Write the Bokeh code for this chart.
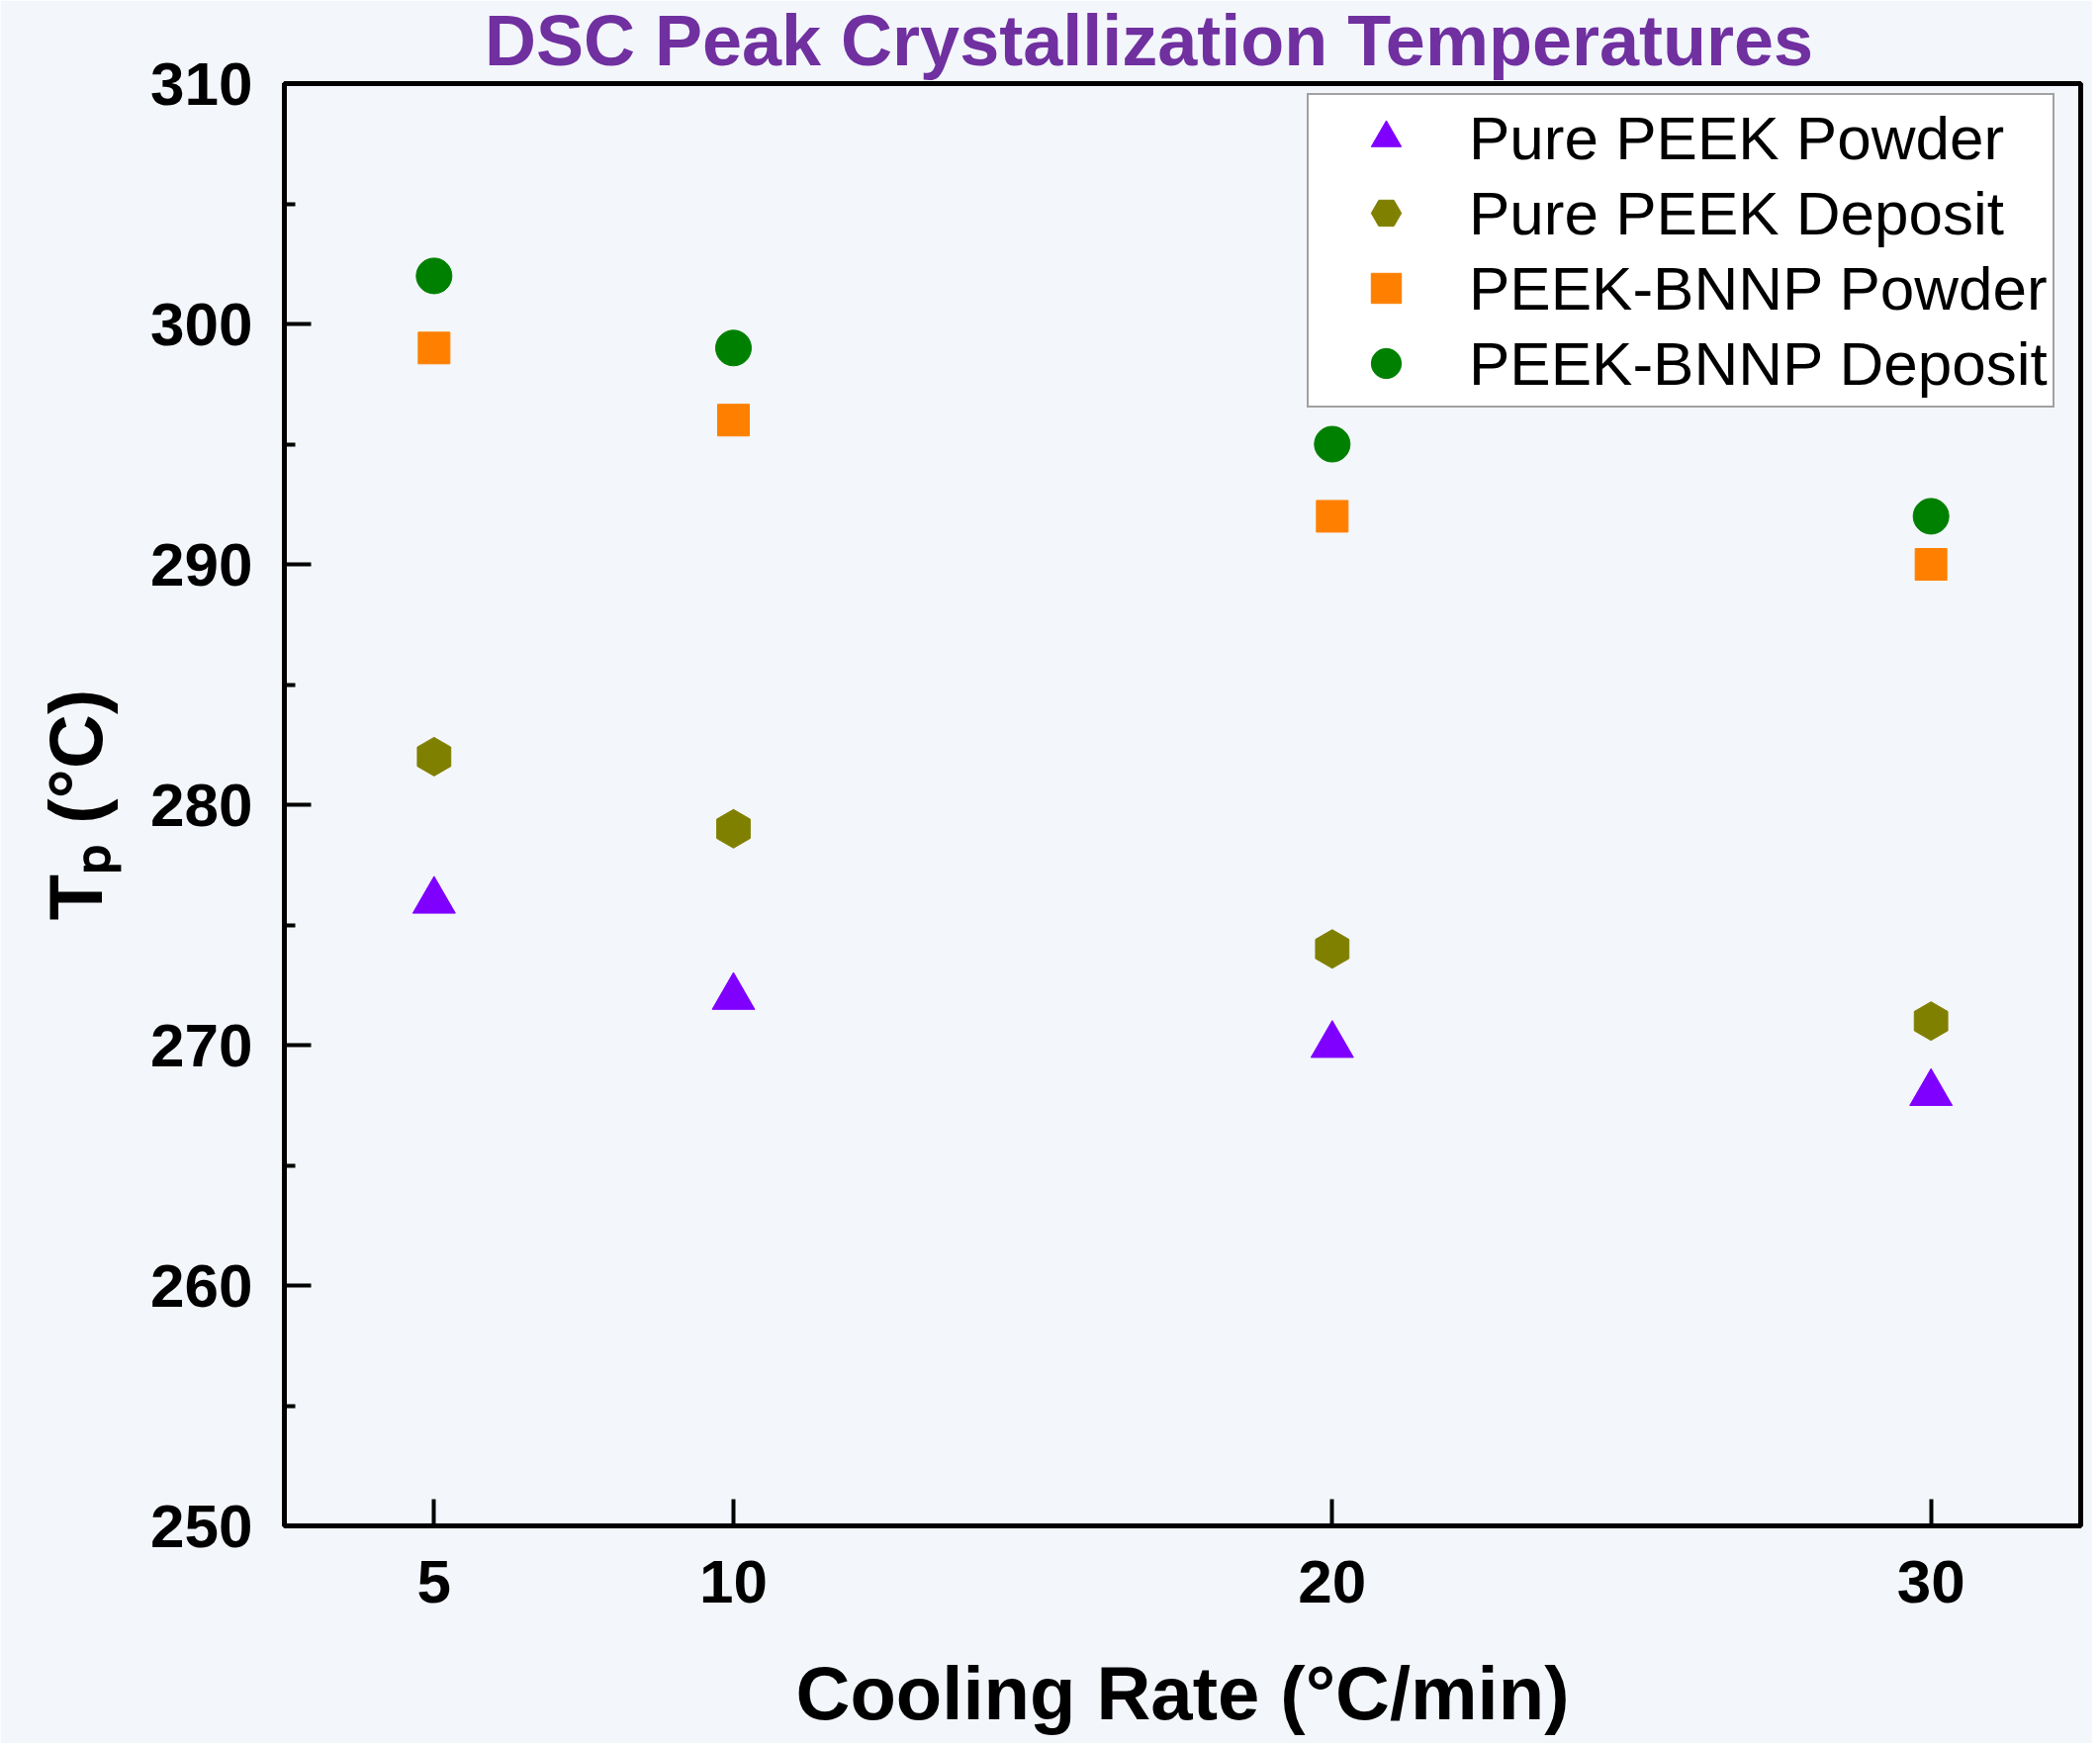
import math
from bokeh.plotting import figure
from bokeh.models import (Range1d, FixedTicker, Label, Legend, LegendItem)
from bokeh.embed import file_html
from bokeh.resources import INLINE

# ---- data ----
cooling_rate = [5, 10, 20, 30]
pure_peek_powder = [276, 272, 270, 268]
pure_peek_deposit = [282, 279, 274, 271]
bnnp_powder = [299, 296, 292, 290]
bnnp_deposit = [302, 299, 295, 292]

series_names = ["Pure PEEK Powder", "Pure PEEK Deposit", "PEEK-BNNP Powder", "PEEK-BNNP Deposit"]
x_ticks = [5, 10, 20, 30]
y_major = [250, 260, 270, 280, 290, 300, 310]
y_minor = [255, 265, 275, 285, 295, 305]

title_text = "DSC Peak Crystallization Temperatures"
x_label = "Cooling Rate (°C/min)"
y_label = "Tₚ (°C)"

BG = "#F3F6FB"
FONT = "Liberation Sans"

W, H = 2115, 1762
p = figure(width=W, height=H, output_backend="svg", toolbar_location=None,
           x_range=Range1d(2.5, 32.5), y_range=Range1d(250, 310))
p.min_border_left = 287
p.min_border_right = W - 2103
p.min_border_top = 84
p.min_border_bottom = H - 1542
p.background_fill_color = BG
p.border_fill_color = BG
p.outline_line_color = "black"
p.outline_line_width = 5
p.grid.visible = False

# axes
for ax in (p.xaxis[0], p.yaxis[0]):
    ax.axis_line_width = 5
    ax.axis_line_color = "black"
    ax.major_tick_in = 27
    ax.major_tick_out = 0
    ax.major_tick_line_width = 4
    ax.minor_tick_in = 11
    ax.minor_tick_out = 0
    ax.minor_tick_line_width = 4
    ax.major_label_text_font = FONT
    ax.major_label_text_font_style = "bold"
    ax.major_label_text_font_size = "62px"
    ax.major_label_text_color = "black"
    ax.axis_label_text_font = FONT
    ax.axis_label_text_font_style = "bold"
    ax.axis_label_text_font_size = "76px"
    ax.axis_label_text_color = "black"

p.xaxis[0].ticker = FixedTicker(ticks=x_ticks)
p.xaxis[0].minor_tick_line_color = None
p.xaxis[0].major_label_standoff = 35
p.xaxis[0].axis_label = x_label
p.xaxis[0].axis_label_standoff = 46

p.yaxis[0].ticker = FixedTicker(ticks=y_major, minor_ticks=y_minor)
p.yaxis[0].major_label_standoff = 32
p.yaxis[0].axis_label = y_label
p.yaxis[0].axis_label_standoff = 30

# scatter series
r1 = p.scatter(cooling_rate, pure_peek_powder, marker="triangle", size=43,
               fill_color="#8000FF", line_color="#8000FF", line_width=1)
r2 = p.scatter(cooling_rate, pure_peek_deposit, marker="hex", size=39, angle=math.pi / 2,
               fill_color="#808000", line_color="#808000", line_width=1)
r3 = p.scatter(cooling_rate, bnnp_powder, marker="square", size=32,
               fill_color="#FF8000", line_color="#FF8000", line_width=1)
r4 = p.scatter(cooling_rate, bnnp_deposit, marker="circle", size=36,
               fill_color="#008000", line_color="#008000", line_width=1)

legend = Legend(items=[LegendItem(label=n, renderers=[r]) for n, r in
                       zip(series_names, [r1, r2, r3, r4])],
                location=(1034, 1130))
legend.glyph_width = 146
legend.glyph_height = 76
legend.label_height = 60
legend.spacing = 0
legend.padding = 5
legend.margin = 0
legend.label_standoff = 11
legend.label_text_font = FONT
legend.label_text_font_size = "62px"
legend.label_text_color = "black"
legend.background_fill_color = "white"
legend.background_fill_alpha = 1
legend.border_line_color = "#444444"
legend.border_line_width = 2
p.add_layout(legend, "center")

# title, placed in the band above the frame
p.add_layout(Label(x=874, y=44, x_units="screen", y_units="screen", text=title_text,
                   text_align="center", text_baseline="alphabetic",
                   text_font=FONT, text_font_style="bold", text_font_size="72px",
                   text_color="#7030A0"), "above")

open("out.html", "w").write(file_html(p, INLINE))
